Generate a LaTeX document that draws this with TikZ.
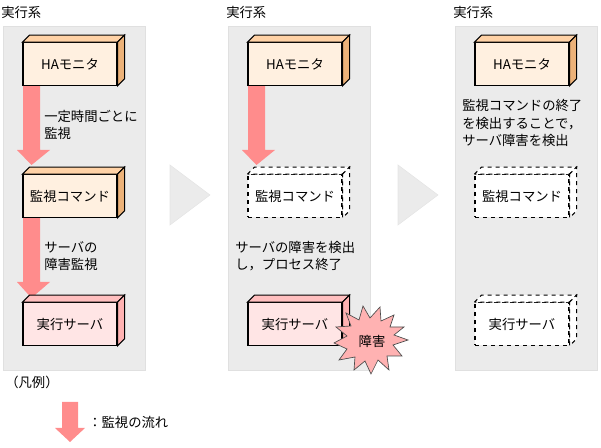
\documentclass[tikz,border=0pt]{standalone}
\usepackage{fontspec}
\setmainfont{Noto Sans CJK JP}
\begin{document}
\begin{tikzpicture}[x=0.75pt,y=-0.75pt,font=\fontsize{10pt}{13pt}\selectfont,
 panel/.style={fill=black!8,draw=black!12},
 bx/.style={draw=black,line width=0.8pt,minimum width=70.5pt,minimum height=32pt,inner sep=0pt},
 ha/.style={bx,fill=orange!12!white},
 sv/.style={bx,fill=red!10!white},
 dbx/.style={bx,fill=white,dashed},
 flow/.style={fill=red!45!white,draw=none},
 tri/.style={fill=black!8,draw=black!10},
 lbl/.style={anchor=west,inner sep=0pt,align=left}]
\useasboundingbox (0,0) rectangle (601,448);
\newcommand\boxdepth[4]{% node, topcolor, sidecolor, dashopt
 \draw[#4,fill=#2,line width=0.8pt] (#1.north west) -- ++(7,-7) -- ([shift={(7,-7)}]#1.north east) -- (#1.north east) -- cycle;
 \draw[#4,fill=#3,line width=0.8pt] (#1.north east) -- ++(7,-7) -- ([shift={(7,-7)}]#1.south east) -- (#1.south east) -- cycle;}
\colorlet{hatop}{orange!35!white}\colorlet{haside}{orange!50!brown!60!white}
\colorlet{svtop}{red!25!white}\colorlet{svside}{red!30!white}
% panels
\foreach \x/\n in {3/p1,228/p2,455/p3}{
 \draw[panel] (\x,26) rectangle ++(142,344);
 \node[anchor=west,inner sep=0pt] (t\n) at (\x-2,12) {実行系};}
% triangles
\draw[tri] (170,165) -- (210,195) -- (170,225) -- cycle;
\draw[tri] (398,165) -- (438,195) -- (398,225) -- cycle;
% flows
\fill[flow] (23,86) rectangle (40,150) (17,150) -- (50,150) -- (31.5,165) -- cycle;
\fill[flow] (23,218) rectangle (40,282) (17,282) -- (50,282) -- (31.5,298) -- cycle;
\fill[flow] (248,86) rectangle (265,150) (242,150) -- (275,150) -- (256.5,165) -- cycle;
% panel 1
\node[ha] (a1) at (70,64) {HAモニタ}; \boxdepth{a1}{hatop}{haside}{solid}
\node[ha] (b1) at (70,196) {監視コマンド}; \boxdepth{b1}{hatop}{haside}{solid}
\node[sv] (c1) at (70,324) {実行サーバ}; \boxdepth{c1}{svtop}{svside}{solid}
% panel 2
\node[ha] (a2) at (295,64) {HAモニタ}; \boxdepth{a2}{hatop}{haside}{solid}
\node[dbx] (b2) at (295,196) {監視コマンド}; \boxdepth{b2}{white}{white}{dashed}
\node[sv] (c2) at (295,324) {実行サーバ}; \boxdepth{c2}{svtop}{svside}{solid}
% panel 3
\node[ha] (a3) at (522,64) {HAモニタ}; \boxdepth{a3}{hatop}{haside}{solid}
\node[dbx] (b3) at (522,196) {監視コマンド}; \boxdepth{b3}{white}{white}{dashed}
\node[dbx] (c3) at (522,324) {実行サーバ}; \boxdepth{c3}{white}{white}{dashed}
% burst
\draw[fill=red!30!white,draw=black!70,line width=0.5pt] plot[smooth cycle,tension=0] coordinates {
(408,340)(393,345)(402,356)(387,356)(389,370)(378,360)(371,374)(365,361)(354,370)(355,357)(339,360)(347,349)(334,343)
(347,336)(336,327)(351,326)(346,313)(359,320)(363,306)(370,318)(380,307)(381,321)(394,315)(390,327)(404,327)(394,335)};
\node (burst) at (372,341) {障害};
% texts
\node[lbl] (l1) at (44,125) {一定時間ごとに\\監視};
\node[lbl] (l2) at (44,256) {サーバの\\障害監視};
\node[lbl] (l3) at (235,256) {サーバの障害を検出\\し，プロセス終了};
\node[lbl] (l4) at (462,123) {監視コマンドの終了\\を検出することで，\\サーバ障害を検出};
% legend
\node[lbl] (lg) at (5,382) {（凡例）};
\fill[flow] (62,402) rectangle (78,428) (55,428) -- (85,428) -- (70,442) -- cycle;
\node[lbl] (lf) at (88,422) {：監視の流れ};
\end{tikzpicture}
\end{document}
